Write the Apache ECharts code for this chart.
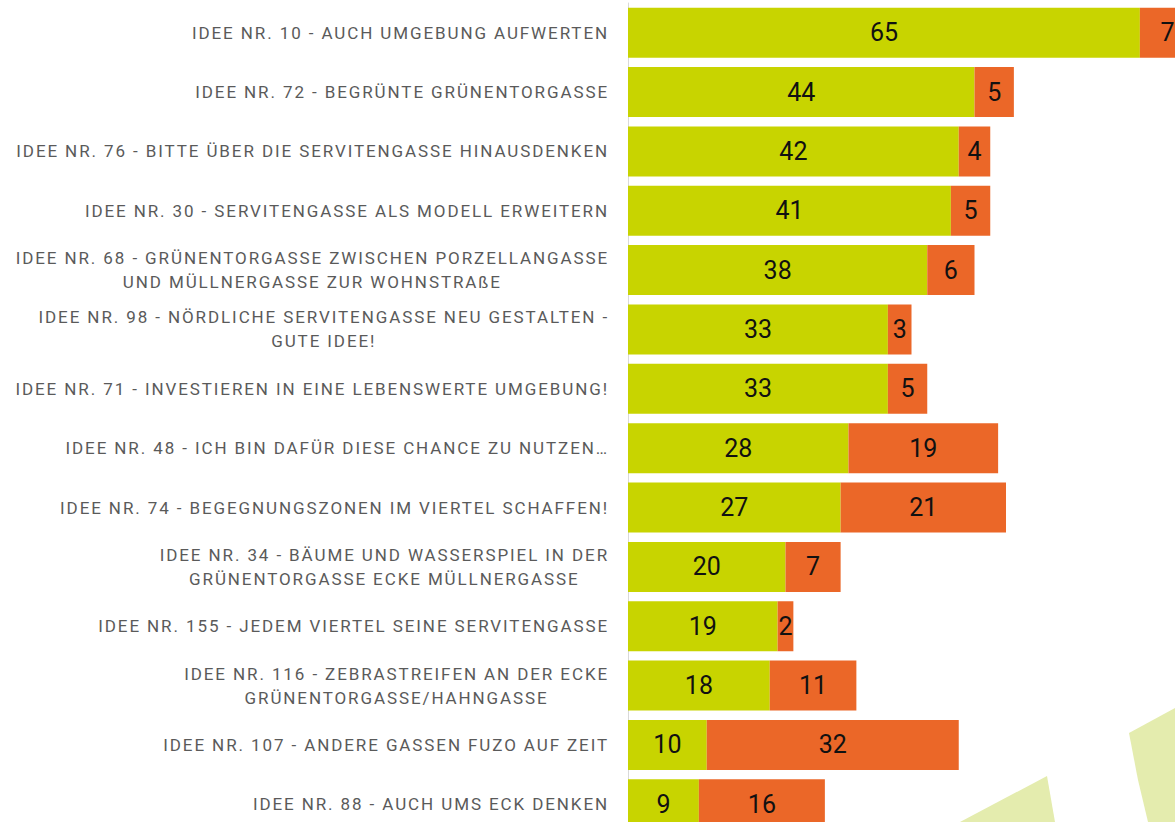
<!DOCTYPE html>
<html>
<head>
<meta charset="utf-8">
<script src="https://cdn.jsdelivr.net/npm/echarts@6/dist/echarts.min.js"></script>
<style>
  html, body { margin: 0; padding: 0; background: #fff; }
  #chart { width: 1175px; height: 822px; }
  /* gesperrte Schrift nur fuer die Achsenbeschriftung */
  #chart text[fill="#5a5a5a"] { letter-spacing: 1.9px; }
</style>
</head>
<body>
<div id="chart"></div>
<script>
// Ideen (von oben nach unten)
var ideen = [
  'IDEE NR. 10 - AUCH UMGEBUNG AUFWERTEN',
  'IDEE NR. 72 - BEGRÜNTE GRÜNENTORGASSE',
  'IDEE NR. 76 - BITTE ÜBER DIE SERVITENGASSE HINAUSDENKEN',
  'IDEE NR. 30 - SERVITENGASSE ALS MODELL ERWEITERN',
  'IDEE NR. 68 - GRÜNENTORGASSE ZWISCHEN PORZELLANGASSE\nUND MÜLLNERGASSE ZUR WOHNSTRAßE',
  'IDEE NR. 98 - NÖRDLICHE SERVITENGASSE NEU GESTALTEN -\nGUTE IDEE!',
  'IDEE NR. 71 - INVESTIEREN IN EINE LEBENSWERTE UMGEBUNG!',
  'IDEE NR. 48 - ICH BIN DAFÜR DIESE CHANCE ZU NUTZEN…',
  'IDEE NR. 74 - BEGEGNUNGSZONEN IM VIERTEL SCHAFFEN!',
  'IDEE NR. 34 - BÄUME UND WASSERSPIEL IN DER\nGRÜNENTORGASSE ECKE MÜLLNERGASSE',
  'IDEE NR. 155 - JEDEM VIERTEL SEINE SERVITENGASSE',
  'IDEE NR. 116 - ZEBRASTREIFEN AN DER ECKE\nGRÜNENTORGASSE/HAHNGASSE',
  'IDEE NR. 107 - ANDERE GASSEN FUZO AUF ZEIT',
  'IDEE NR. 88 - AUCH UMS ECK DENKEN',
]
// gruener Balken
var dafuer = [65, 44, 42, 41, 38, 33, 33, 28, 27, 20, 19, 18, 10, 9]
// oranger Balken
var dagegen = [7, 5, 4, 5, 6, 3, 5, 19, 21, 7, 2, 11, 32, 16]

var LABEL_FONT = 'Roboto'
var LABEL_SIZE = 17
var SPACING = 1.9

// Textbreite inkl. Sperrung messen, damit die Ausrichtung stimmt
var measureCtx = document.createElement('canvas').getContext('2d')
if (echarts.setPlatformAPI) {
  echarts.setPlatformAPI({
    measureText: function (text, font) {
      measureCtx.font = font
      var w = measureCtx.measureText(text).width
      if (font && font.indexOf(LABEL_SIZE + 'px') >= 0) {
        w += text.length * SPACING
      }
      return { width: w }
    },
  })
}

var myChart = echarts.init(document.getElementById('chart'), null, { renderer: 'svg' })

var option = {
  animation: false,
  backgroundColor: '#fff',
  grid: {
    left: 628,
    right: -20,
    top: 3,
    bottom: -12,
    outerBoundsMode: 'none',
  },
  //Hintergrund-Deko unten rechts
  graphic: [
    {
      type: 'polygon',
      z: -10,
      shape: { points: [[960, 822], [1047, 776], [1055, 822]] },
      style: { fill: '#e4ecae' },
    },
    {
      type: 'polygon',
      z: -10,
      shape: { points: [[1129, 733], [1175, 708], [1175, 822], [1148, 822], [1138, 780]] },
      style: { fill: '#e4ecae' },
    },
  ],
  xAxis: {
    type: 'value',
    min: 0,
    max: 72,
    show: false,
    splitLine: { show: false },
  },
  yAxis: {
    type: 'category',
    inverse: true,
    data: ideen,
    axisLine: { show: true, lineStyle: { color: '#d9d9d9', width: 1 } },
    axisTick: { show: false },
    axisLabel: {
      margin: 19,
      align: 'right',
      formatter: function (value) {
        return value.split('\n').map(function (l) { return '{c|' + l + '}' }).join('\n')
      },
      rich: {
        c: {
          align: 'center',
          fontFamily: LABEL_FONT,
          fontSize: LABEL_SIZE,
          color: '#5a5a5a',
          lineHeight: 24,
        },
      },
    },
  },
  series: [
    {
      type: 'bar',
      stack: 'a',
      barWidth: 50,
      data: dafuer,
      itemStyle: { color: '#c8d400' },
      label: {
        show: true,
        position: 'inside',
        fontFamily: 'Roboto',
        fontSize: 25,
        color: '#111',
      },
    },
    {
      type: 'bar',
      stack: 'a',
      barWidth: 50,
      data: dagegen,
      itemStyle: { color: '#eb6728' },
      label: {
        show: true,
        position: 'inside',
        fontFamily: 'Roboto',
        fontSize: 25,
        color: '#111',
      },
    },
  ],
}
myChart.setOption(option)
</script>
</body>
</html>
